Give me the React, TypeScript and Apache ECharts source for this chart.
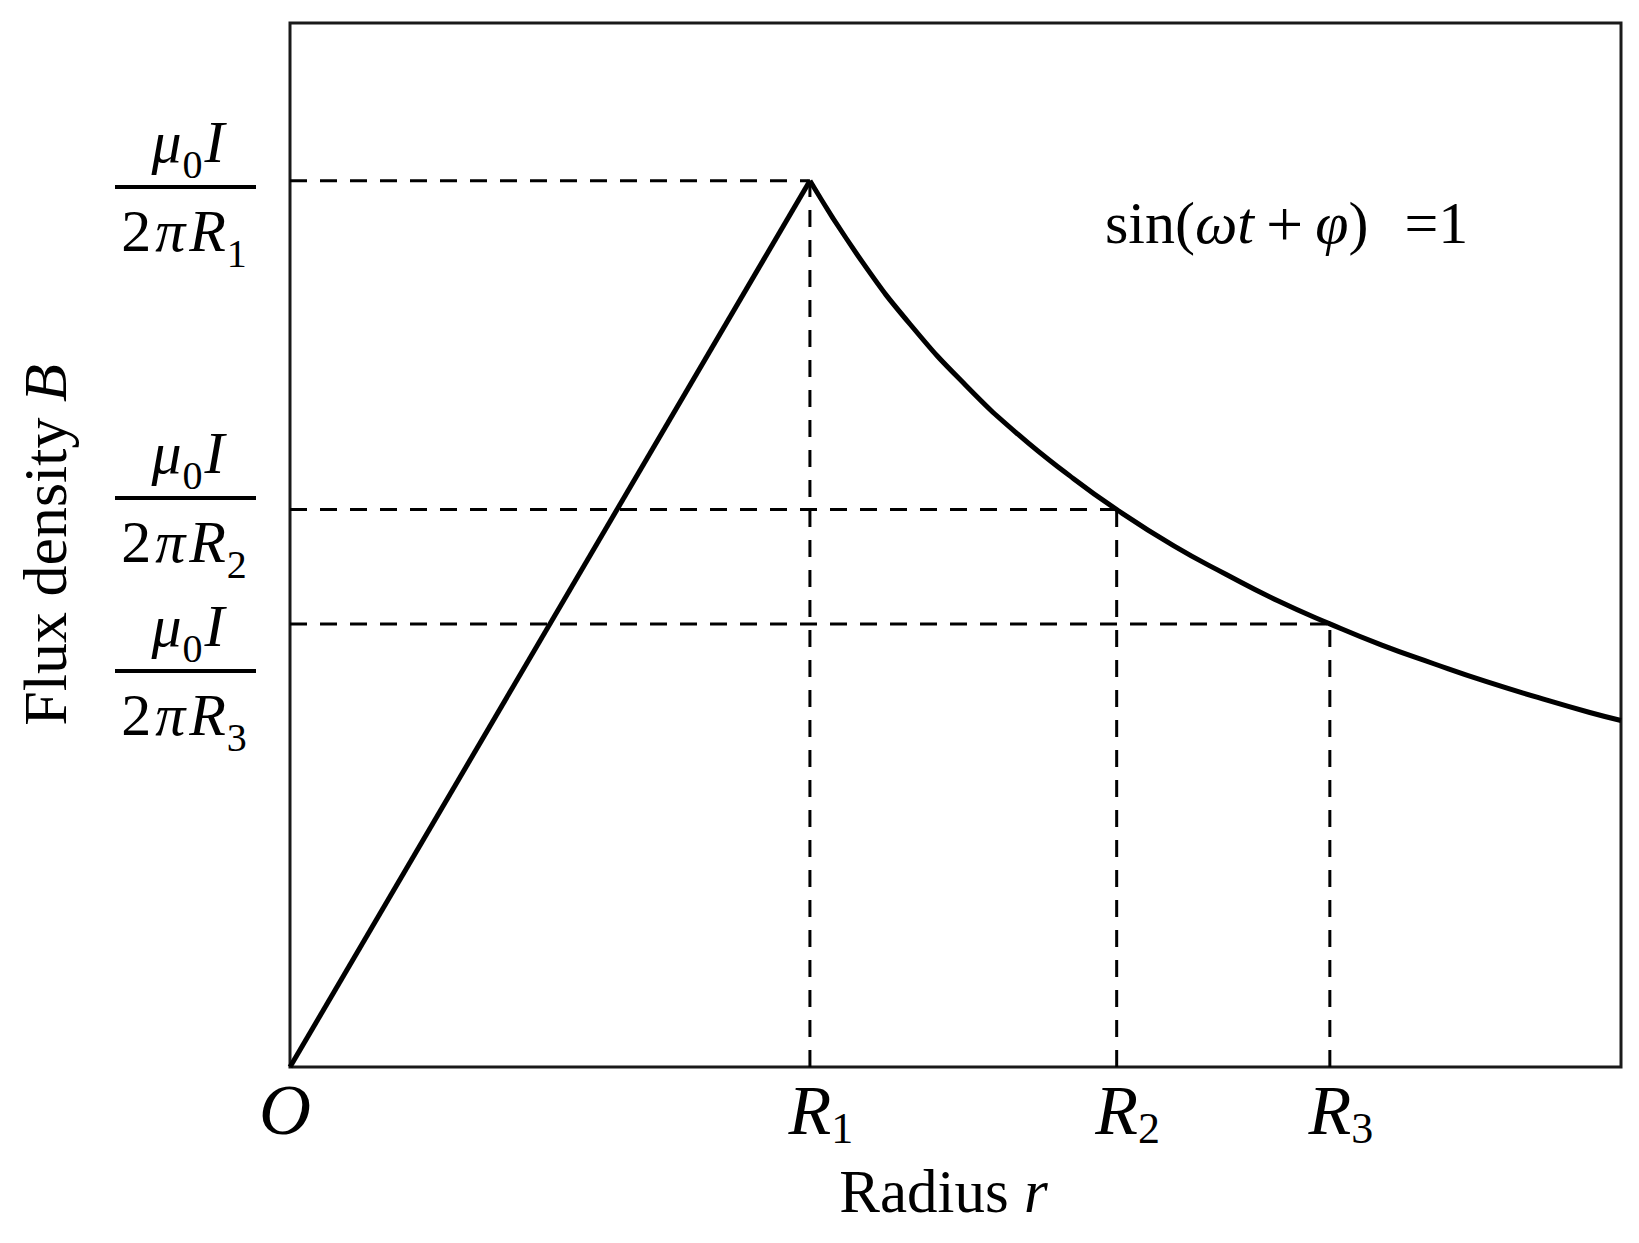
import React, { useEffect, useRef } from 'react';
import * as echarts from 'echarts';

const FONT = '"Liberation Serif", "Times New Roman", serif';

// Radius in units of R1, flux density in units of mu0 I / (2 pi R1)
const riseRadius = [0, 1];
const riseFlux = [0, 1];
const decayRadius = [1, 1.1, 1.2, 1.3, 1.4, 1.5, 1.59, 1.7, 1.8, 1.9, 2.0, 2.1, 2.2, 2.3, 2.4, 2.5, 2.56];
const decayFlux = [1, 0.909, 0.833, 0.769, 0.714, 0.667, 0.629, 0.588, 0.556, 0.526, 0.5, 0.476, 0.455, 0.435, 0.417, 0.4, 0.391];
const markRadius = [1, 1.59, 2.0];
const markFlux = [1, 0.629, 0.5];
const xTickValues = [0, 1, 1.59, 2.0];
const xTickMain = ['O', 'R', 'R', 'R'];
const xTickSub = ['', '1', '2', '3'];
const fracSubs = ['1', '2', '3'];
const X_MAX = 2.56;
const Y_MAX = 1.178;

// layout (pixels)
const fracLineY = [187, 498, 671];
const FRAC_X = 186;

const blk = '#000';

function fracRich() {
  return {
    m: { fontFamily: FONT, fontSize: 60, fontStyle: 'italic', lineHeight: 84, color: blk },
    g: { fontFamily: FONT, fontSize: 60, fontStyle: 'italic', lineHeight: 84, color: blk, padding: [0, 4, 0, 4] },
    n: { fontFamily: FONT, fontSize: 60, lineHeight: 84, color: blk },
    s: { fontFamily: FONT, fontSize: 40, lineHeight: 40, verticalAlign: 'bottom', color: blk, padding: [0, 2, 0, 1] },
  };
}

export default function App() {
  const ref = useRef<HTMLDivElement>(null);
  useEffect(() => {
    if (!ref.current) return;
    const chart = echarts.init(ref.current, null, { renderer: 'svg' });

    const dashed: any[] = [];
    markRadius.forEach((r, i) => {
      const b = markFlux[i];
      dashed.push({
        type: 'line', silent: true, symbol: 'none', z: 1,
        data: [[0, b], [r, b]],
        lineStyle: { color: blk, width: 3, type: [17, 13] },
      });
      dashed.push({
        type: 'line', silent: true, symbol: 'none', z: 1,
        data: [[r, 0], [r, b]],
        lineStyle: { color: blk, width: 3, type: [17, 13] },
      });
    });

    const graphic: any[] = [];
    fracLineY.forEach((ly, i) => {
      graphic.push({
        type: 'line', silent: true,
        shape: { x1: 115, y1: ly, x2: 256, y2: ly },
        style: { stroke: blk, lineWidth: 4 },
      });
      graphic.push({
        type: 'text', x: FRAC_X + 2, y: ly - 87,
        style: {
          text: '{m|μ}{s|0}{m|I}', align: 'center', textAlign: 'center',
          verticalAlign: 'top', textVerticalAlign: 'top', rich: fracRich(), fill: blk,
        },
      });
      graphic.push({
        type: 'text', x: FRAC_X - 1, y: ly + 2,
        style: {
          text: `{n|2}{g|π}{m|R}{s|${fracSubs[i]}}`, align: 'center', textAlign: 'center',
          verticalAlign: 'top', textVerticalAlign: 'top', rich: fracRich(), fill: blk,
        },
      });
    });
    graphic.push({
      type: 'text', x: 1105, y: 181,
      style: {
        text: '{n|sin(}{m|ωt}{p|+}{m|φ}{n|)}{q|=1}', align: 'left', textAlign: 'left',
        verticalAlign: 'top', textVerticalAlign: 'top', fill: blk,
        rich: {
          m: { fontFamily: FONT, fontSize: 60, fontStyle: 'italic', lineHeight: 84, color: blk },
          n: { fontFamily: FONT, fontSize: 60, lineHeight: 84, color: blk },
          p: { fontFamily: FONT, fontSize: 66, lineHeight: 84, color: blk, padding: [0, 12, 0, 12] },
          q: { fontFamily: FONT, fontSize: 60, lineHeight: 84, color: blk, padding: [0, 0, 0, 36] },
        },
      },
    });

    const option: any = {
      animation: false,
      backgroundColor: '#fff',
      grid: {
        left: 290, top: 23, right: 18, bottom: 176,
        show: true, borderColor: '#1a1a1a', borderWidth: 3, backgroundColor: 'transparent',
        containLabel: false, outerBoundsMode: 'none',
      },
      xAxis: {
        type: 'value', min: 0, max: X_MAX,
        name: '{a|Radius }{b|r}', nameLocation: 'middle', nameGap: 94,
        nameTextStyle: {
          padding: [0, 24, 0, 0],
          rich: {
            a: { fontFamily: FONT, fontSize: 61, color: blk },
            b: { fontFamily: FONT, fontSize: 61, fontStyle: 'italic', color: blk },
          },
        },
        axisLine: { show: false }, axisTick: { show: false }, splitLine: { show: false },
        axisLabel: {
          customValues: xTickValues,
          margin: 3,
          formatter: (v: number) => {
            const i = xTickValues.findIndex((t) => Math.abs(t - v) < 1e-6);
            if (i < 0) return '';
            if (!xTickSub[i]) return `{o|${xTickMain[i]}}`;
            return `{pad| }{m|${xTickMain[i]}}{s|${xTickSub[i]}}`;
          },
          rich: {
            pad: { fontFamily: FONT, fontSize: 44, width: 22, lineHeight: 44 },
            o: { fontFamily: FONT, fontSize: 72, fontStyle: 'italic', lineHeight: 80, color: blk, padding: [0, 10, 0, 0] },
            m: { fontFamily: FONT, fontSize: 70, fontStyle: 'italic', lineHeight: 80, color: blk },
            s: { fontFamily: FONT, fontSize: 44, lineHeight: 44, verticalAlign: 'bottom', color: blk },
          },
        },
      },
      yAxis: {
        type: 'value', min: 0, max: Y_MAX,
        name: '{a|Flux density }{b|B}', nameLocation: 'middle', nameGap: 214,
        nameTextStyle: {
          rich: {
            a: { fontFamily: FONT, fontSize: 62, color: blk },
            b: { fontFamily: FONT, fontSize: 62, fontStyle: 'italic', color: blk },
          },
        },
        axisLine: { show: false }, axisTick: { show: false }, splitLine: { show: false },
        axisLabel: { show: false },
      },
      series: [
        ...dashed,
        {
          type: 'line', name: 'rise', symbol: 'none', z: 3, silent: true,
          data: riseRadius.map((r, i) => [r, riseFlux[i]]),
          lineStyle: { color: blk, width: 5 },
        },
        {
          type: 'line', name: 'decay', symbol: 'none', z: 3, smooth: true, silent: true,
          data: decayRadius.map((r, i) => [r, decayFlux[i]]),
          lineStyle: { color: blk, width: 5 },
        },
      ],
      graphic,
    };
    chart.setOption(option);
    return () => chart.dispose();
  }, []);
  return (
    <div
      ref={ref}
      style={{ position: 'fixed', left: 0, top: 0, width: 1639, height: 1243, background: '#fff' }}
    />
  );
}
